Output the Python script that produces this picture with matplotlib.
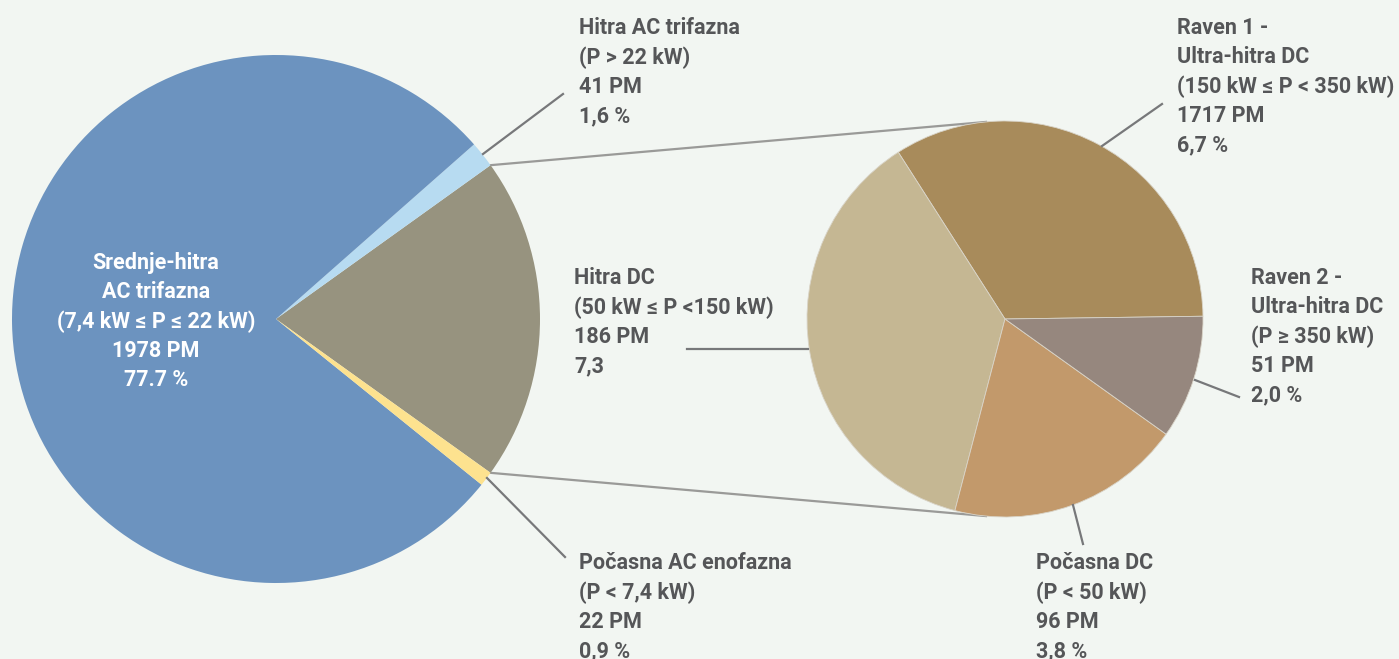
import numpy as np
import matplotlib.pyplot as plt

# left pie: all charging points by type (share in %)
left_names = ["Hitra DC", "Hitra AC trifazna", "Srednje-hitra AC trifazna", "Počasna AC enofazna"]
left_colors = ["#97937F", "#B7DBF1", "#6C93BF", "#FDE28F"]

# right pie: breakdown of DC charging points (share in %)
right_names = ["Raven 1", "Hitra DC", "Počasna DC", "Raven 2"]
right_shares = [6.7, 7.3, 3.8, 2.0]
right_colors = ["#A88B5B", "#C5B793", "#C2996B", "#96877E"]

dc_share = sum(right_shares)
left_shares = [dc_share, 1.6, 77.7, 0.9]

label_hitra_ac = "Hitra AC trifazna\n(P > 22 kW)\n41 PM\n1,6 %"
label_hitra_dc = "Hitra DC\n(50 kW ≤ P <150 kW)\n186 PM\n7,3"
label_pocasna_ac = "Počasna AC enofazna\n(P < 7,4 kW)\n22 PM\n0,9 %"
label_raven1 = "Raven 1 -\nUltra-hitra DC\n(150 kW ≤ P < 350 kW)\n1717 PM\n6,7 %"
label_raven2 = "Raven 2 -\nUltra-hitra DC\n(P ≥ 350 kW)\n51 PM\n2,0 %"
label_pocasna_dc = "Počasna DC\n(P < 50 kW)\n96 PM\n3,8 %"
label_srednje = "Srednje-hitra\nAC trifazna\n(7,4 kW ≤ P ≤ 22 kW)\n1978 PM\n77.7 %"

W, H = 1399, 659
bg = "#F2F6F2"
txt = "#555658"
font = ["Roboto", "DejaVu Sans"]


def Y(y):
    return H - y


fig = plt.figure(figsize=(W / 100, H / 100), dpi=100)
fig.patch.set_facecolor(bg)
ax = fig.add_axes([0, 0, 1, 1])
ax.set_facecolor(bg)

lc, lr = (276, Y(319)), 264
rc, rr = (1005, Y(319)), 198

start_left = -dc_share / 100 * 360 / 2
lw, _ = ax.pie(left_shares, colors=left_colors, startangle=start_left,
               center=lc, radius=lr, wedgeprops=dict(linewidth=0))
rw, _ = ax.pie(right_shares, colors=right_colors, startangle=0.8,
               center=rc, radius=rr, wedgeprops=dict(linewidth=0.6, edgecolor="#D9D4C8"))

ax.set_xlim(0, W)
ax.set_ylim(0, H)
ax.set_aspect("equal")
ax.axis("off")


def on_circle(c, r, ang):
    a = np.deg2rad(ang)
    return c[0] + r * np.cos(a), c[1] + r * np.sin(a)


# connectors between the DC wedge and the right pie
dc = lw[0]
for a_left, a_right in [(dc.theta2, 95.5), (dc.theta1, -95.5)]:
    p0 = on_circle(lc, lr, a_left)
    p1 = on_circle(rc, rr, a_right)
    ax.plot([p0[0], p1[0]], [p0[1], p1[1]], color="#9A9A98", lw=1.6, zorder=0)

# leader lines
leaders = [
    ((483, 154), (563, 94)),
    ((487, 478), (565, 557)),
    ((687, 349), (808, 349)),
    ((1102, 146), (1162, 104)),
    ((1195, 380), (1239, 397)),
    ((1073, 505), (1083, 544)),
]
for (x0, y0), (x1, y1) in leaders:
    ax.plot([x0, x1], [Y(y0), Y(y1)], color="#77787A", lw=1.6, zorder=3)

fs = 15.5
ls = 1.42
labels = [
    (label_hitra_ac, 579, 17),
    (label_hitra_dc, 574, 267),
    (label_pocasna_ac, 579, 552),
    (label_raven1, 1177, 17),
    (label_raven2, 1251, 267),
    (label_pocasna_dc, 1036, 552),
]
for s, x, y in labels:
    ax.text(x, Y(y), s, ha="left", va="top", fontsize=fs, fontweight="bold",
            color=txt, family=font, linespacing=ls)

ax.text(156, Y(252), label_srednje, ha="center", va="top", fontsize=fs,
        fontweight="bold", color="white", family=font, linespacing=ls)

fig.savefig("out.png", dpi=100, facecolor=bg)
